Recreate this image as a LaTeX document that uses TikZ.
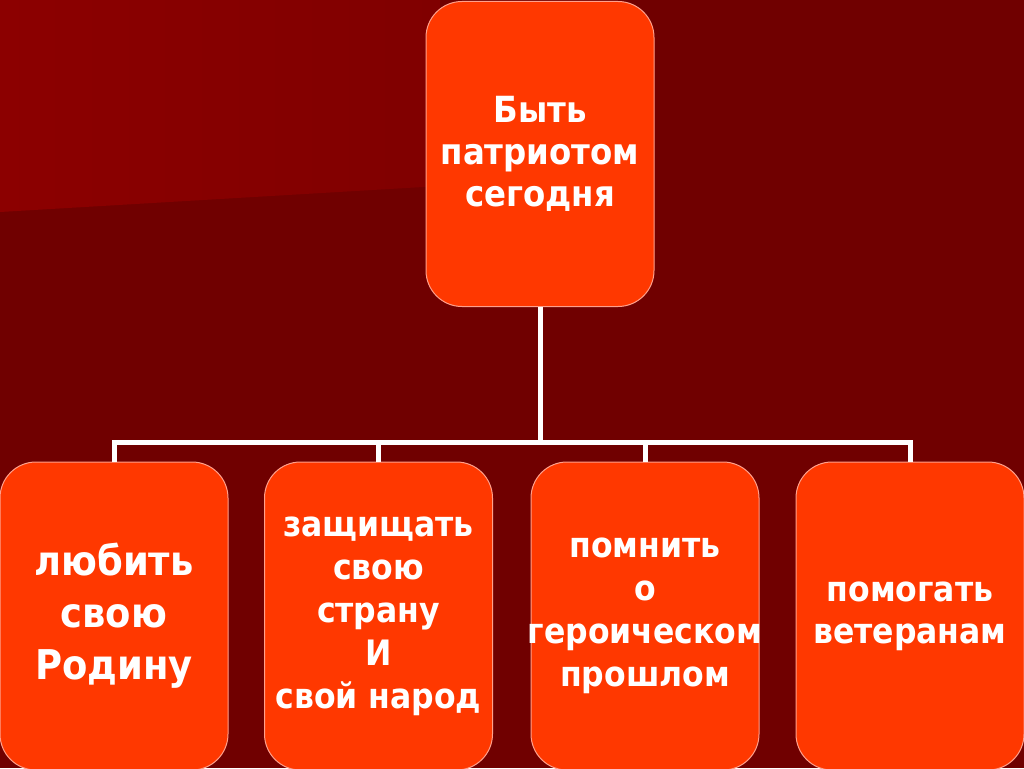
\documentclass[tikz,border=0pt]{standalone}
\usepackage{fontspec}
\newfontfamily\lbl{DejaVu Sans Condensed}[BoldFont={DejaVu Sans Condensed Bold}]
\definecolor{bgdark}{RGB}{112,0,0}
\definecolor{bglightL}{RGB}{140,0,0}
\definecolor{bglightR}{RGB}{128,0,0}
\definecolor{boxfill}{RGB}{255,56,0}
\definecolor{boxline}{RGB}{255,160,140}
\tikzset{
  box/.style={draw=boxline, line width=1pt, fill=boxfill, rounded corners=36pt,
    text=white, align=center, inner sep=0pt,
    font=\lbl\bfseries\fontsize{35}{42}\selectfont},
  topbox/.style={box, minimum width=228pt, minimum height=305pt},
  lowbox/.style={box, minimum width=228pt, minimum height=308pt},
  conn/.style={draw=white, line width=5pt, line join=miter}
}
\begin{document}
\begin{tikzpicture}[x=1pt,y=-1pt]
\useasboundingbox (0,0) rectangle (1024,768);
\fill[bgdark] (0,0) rectangle (1024,768);
\shade[left color=bglightL, right color=bglightR] (0,0) -- (440,0) -- (440,186) -- (0,212) -- cycle;

\node[topbox, font=\lbl\bfseries\fontsize{36}{42}\selectfont] (top) at (540,154) {Быть\\патриотом\\сегодня};
\node[lowbox, font=\lbl\bfseries\fontsize{41}{52}\selectfont] (b1) at (114,616) {любить\\свою\\Родину};
\node[lowbox, font=\lbl\bfseries\fontsize{35}{43}\selectfont] (b2) at (378.5,616) {защищать\\свою\\страну\\И\\свой народ};
\node[lowbox, font=\lbl\bfseries\fontsize{35}{43}\selectfont] (b3) at (645,616) {помнить\\о\\\makebox[224pt]{героическом}\\прошлом};
\node[lowbox] (b4) at (910,616) {помогать\\ветеранам};

\coordinate (bus) at (540,442);
\draw[conn] (top.south) -- (bus);
\draw[conn] (b1.north) -- (b1.north |- bus) -- (b4.north |- bus) -- (b4.north);
\draw[conn] (b2.north) -- (b2.north |- bus);
\draw[conn] (b3.north) -- (b3.north |- bus);
\end{tikzpicture}
\end{document}
